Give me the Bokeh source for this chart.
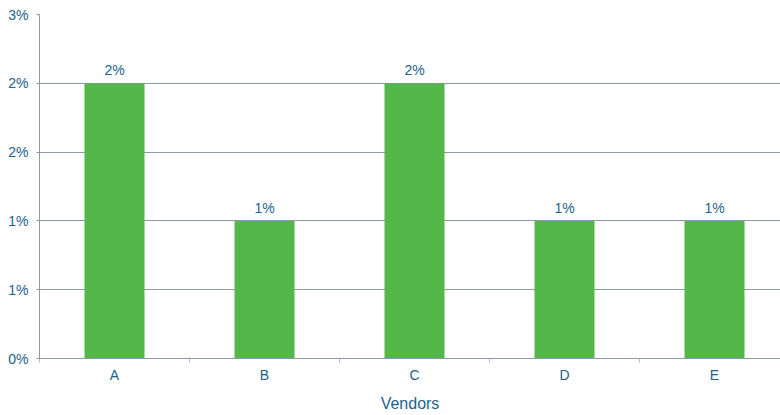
from bokeh.plotting import figure
from bokeh.models import ColumnDataSource, FixedTicker, Range1d, LinearAxis
from bokeh.embed import file_html
from bokeh.resources import INLINE
from bokeh.core.properties import value

vendors = ["A", "B", "C", "D", "E"]
shares = [2.0, 1.0, 2.0, 1.0, 1.0]  # percent
bar_labels = ["2%", "1%", "2%", "1%", "1%"]
y_ticks = [0, 0.5, 1.0, 1.5, 2.0, 2.5]
y_tick_labels = ["0%", "1%", "1%", "2%", "2%", "3%"]

FONT = "Liberation Sans"
TXT = "#21618c"
GRID = "#8d99a8"
GREEN = "#53b749"

xs = [i + 0.5 for i in range(len(vendors))]
src = ColumnDataSource(dict(x=xs, top=shares, label=bar_labels))

p = figure(width=780, height=415, output_backend="svg", toolbar_location=None,
           x_range=Range1d(0, 741 / 150), y_range=Range1d(0, 2.5),
           min_border_left=39, min_border_right=0, min_border_top=14, min_border_bottom=57,
           x_axis_location=None)
p.outline_line_color = None
p.background_fill_color = "white"

p.vbar(x="x", top="top", width=0.4, source=src, fill_color=GREEN, line_color=None)
p.text(x="x", y="top", text="label", source=src, text_align="center", text_baseline="bottom",
       y_offset=-5, text_font=value(FONT), text_font_size="14px", text_color=TXT)

xaxis = LinearAxis(ticker=FixedTicker(ticks=xs, minor_ticks=list(range(len(vendors) + 1))),
                   major_label_overrides={x: v for x, v in zip(xs, vendors)})
xaxis.axis_label = "Vendors"
xaxis.major_tick_line_color = None
xaxis.major_tick_out = 0
xaxis.major_tick_in = 0
xaxis.minor_tick_in = 0
xaxis.minor_tick_out = 4
xaxis.minor_tick_line_color = "#b0bac6"
xaxis.axis_line_color = GRID
xaxis.major_label_text_font = FONT
xaxis.major_label_text_font_size = "14px"
xaxis.major_label_text_color = TXT
xaxis.major_label_standoff = 4
xaxis.axis_label_text_font = FONT
xaxis.axis_label_text_font_size = "16px"
xaxis.axis_label_text_font_style = "normal"
xaxis.axis_label_text_color = TXT
xaxis.axis_label_standoff = 9
p.add_layout(xaxis, "below")

p.yaxis.ticker = FixedTicker(ticks=y_ticks)
p.yaxis.major_label_overrides = {t: l for t, l in zip(y_ticks, y_tick_labels)}
p.yaxis.axis_line_color = GRID
p.yaxis.major_tick_line_color = GRID
p.yaxis.major_tick_in = 0
p.yaxis.major_tick_out = 3
p.yaxis.minor_tick_line_color = None
p.yaxis.major_label_text_font = FONT
p.yaxis.major_label_text_font_size = "14px"
p.yaxis.major_label_text_color = TXT
p.yaxis.major_label_standoff = 8

p.xgrid.grid_line_color = None
p.ygrid.ticker = FixedTicker(ticks=y_ticks)
p.ygrid.grid_line_color = GRID
p.ygrid.grid_line_width = 1

open("out.html", "w").write(file_html(p, INLINE))
